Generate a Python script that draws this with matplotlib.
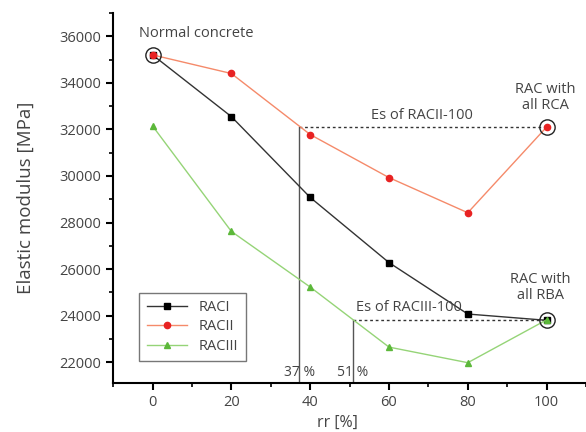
import numpy as np
import matplotlib.pyplot as plt
from matplotlib.ticker import MultipleLocator

plt.rcParams['font.family'] = ['Open Sans', 'DejaVu Sans']

# replacement ratio and elastic modulus values
rr = [0, 20, 40, 60, 80, 100]
raci = [35200, 32550, 29080, 26280, 24070, 23800]
racii = [35200, 34400, 31780, 29930, 28420, 32100]
raciii = [32150, 27620, 25230, 22650, 21980, 23820]

es_racii_100 = 32100
es_raciii_100 = 23820
rr_racii = 37.2
rr_raciii = 50.9

txt = '#444444'

fig = plt.figure(figsize=(5.86, 4.32), dpi=100)
ax = fig.add_axes([0.193, 0.113, 0.807, 0.857])

# reference lines
ax.plot([rr_racii, rr_racii], [21100, es_racii_100], color='#555555', lw=1.0)
ax.plot([rr_raciii, rr_raciii], [21100, es_raciii_100], color='#555555', lw=1.0)
ax.plot([rr_racii, 100], [es_racii_100, es_racii_100], color='#333333', lw=1.0, ls=(0, (2, 2)))
ax.plot([rr_raciii, 100], [es_raciii_100, es_raciii_100], color='#333333', lw=1.0, ls=(0, (2, 2)))

ax.plot(rr, raci, color='#333333', lw=1.0, marker='s', ms=4, mfc='black', mec='black', label='RACI')
ax.plot(rr, racii, color='#f58a6a', lw=1.0, marker='o', ms=4.5, mfc='#e82222', mec='#e82222', label='RACII')
ax.plot(rr, raciii, color='#95d477', lw=1.0, marker='^', ms=4.5, mfc='#5cb83a', mec='#5cb83a', label='RACIII')

# open circles marking the reference points
ax.plot([0, 100, 100], [35200, es_racii_100, es_raciii_100], ls='none', marker='o', ms=11,
        mfc='none', mec='#222222', mew=1.0)

ax.text(11, 36100, 'Normal concrete', ha='center', va='center', fontsize=10.5, color=txt)
ax.text(99.7, 33360, 'RAC with\nall RCA', ha='center', va='center', fontsize=10.5, color=txt, linespacing=1.1)
ax.text(98.4, 25200, 'RAC with\nall RBA', ha='center', va='center', fontsize=10.5, color=txt, linespacing=1.1)
ax.text(68.4, 32600, 'Es of RACII-100', ha='center', va='center', fontsize=10.5, color=txt)
ax.text(65, 24330, 'Es of RACIII-100', ha='center', va='center', fontsize=10.5, color=txt)
ax.text(rr_racii, 21250, '37 %', ha='center', va='bottom', fontsize=10, color=txt)
ax.text(rr_raciii, 21250, '51 %', ha='center', va='bottom', fontsize=10, color=txt)

ax.set_xlim(-10, 110)
ax.set_ylim(21100, 37000)
ax.xaxis.set_major_locator(MultipleLocator(20))
ax.xaxis.set_minor_locator(MultipleLocator(10))
ax.yaxis.set_major_locator(MultipleLocator(2000))
ax.yaxis.set_minor_locator(MultipleLocator(1000))
ax.set_xticks([0, 20, 40, 60, 80, 100])

for s in ['top', 'right']:
    ax.spines[s].set_visible(False)
for s in ['left', 'bottom']:
    ax.spines[s].set_linewidth(1.5)
ax.tick_params(which='major', length=5, width=1.5, labelsize=10.5, labelcolor=txt)
ax.tick_params(which='minor', length=3, width=1.2)

ax.set_xlabel('rr [%]', fontsize=11.5, color=txt, labelpad=3)
ax.set_ylabel('Elastic modulus [MPa]', fontsize=13.5, color=txt, labelpad=18)
ax.xaxis.set_label_coords(0.475, -0.085)

leg = ax.legend(loc='lower left', bbox_to_anchor=(0.04, 0.04), fontsize=10.5, frameon=True,
                fancybox=False, edgecolor='#555555', handlelength=2.8, borderpad=0.5,
                labelspacing=0.3)
for t in leg.get_texts():
    t.set_color(txt)

plt.savefig('out.png', dpi=100)
